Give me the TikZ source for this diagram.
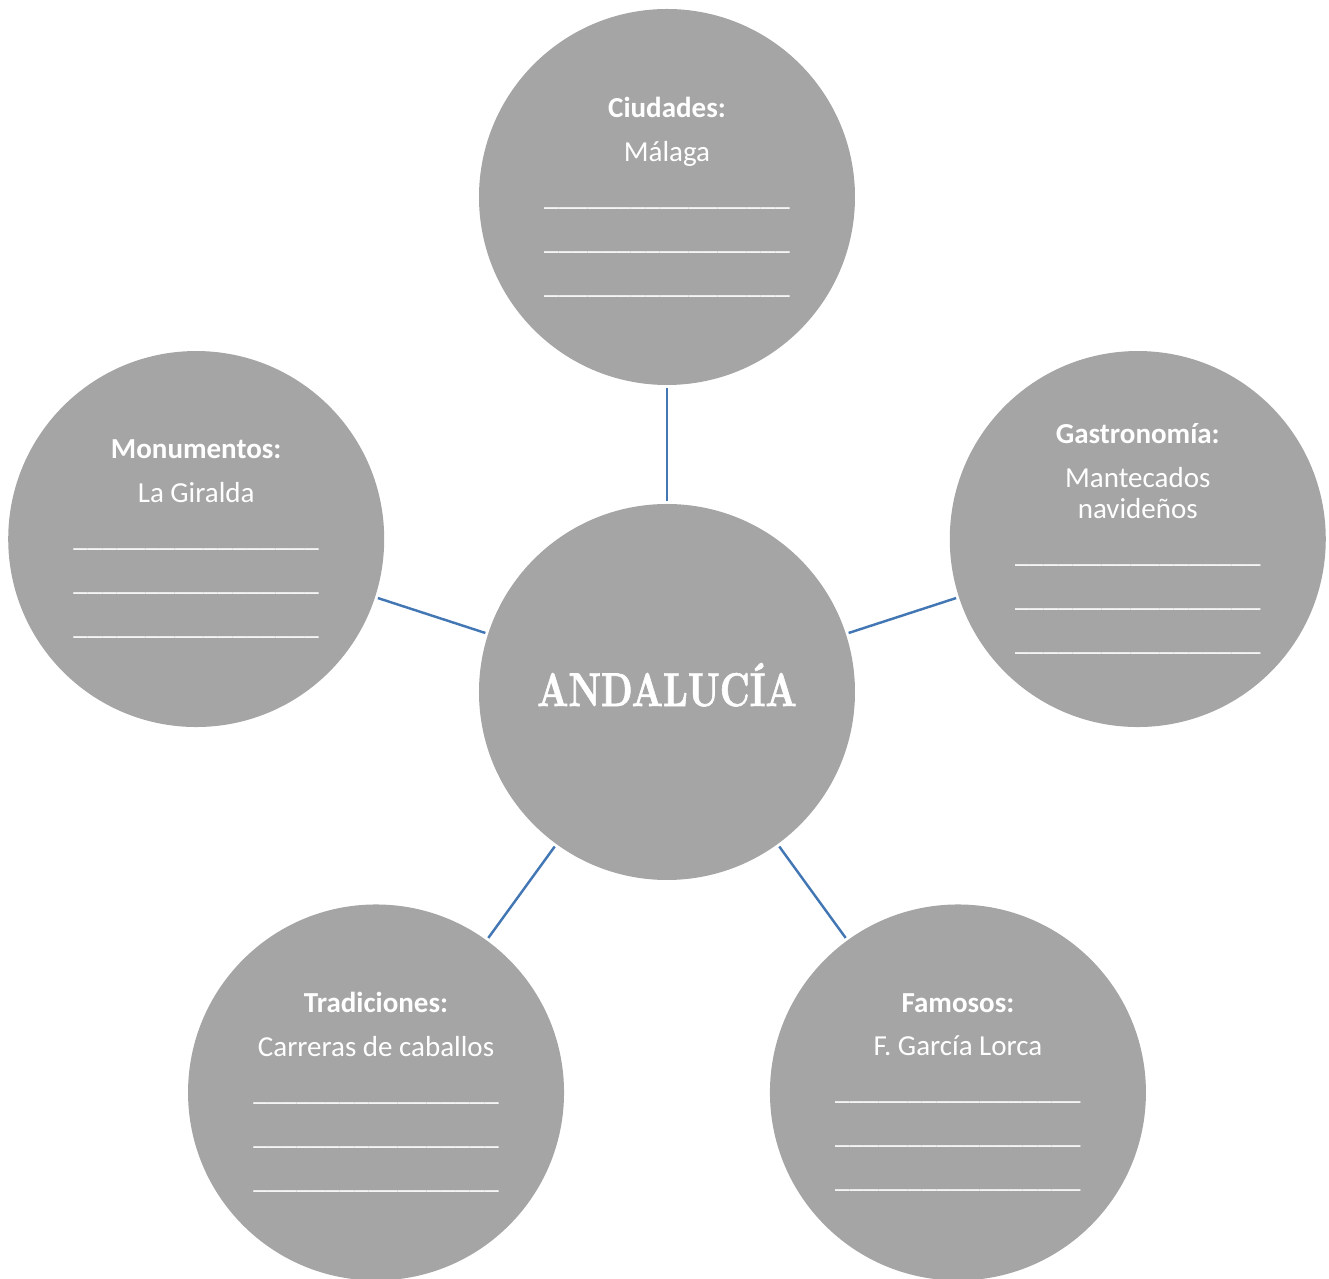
\documentclass[tikz,border=0pt]{standalone}
\usepackage{fontspec}
\setmainfont{Carlito}
\newfontfamily\titlefont{lmroman10-bold}[Extension=.otf, FakeStretch=0.76, FakeBold=1.2]
\usepackage{tikz}
\usetikzlibrary{
    shapes.geometric,
    positioning,
    calc
}
\definecolor{circlegray}{HTML}{A5A5A5}
\definecolor{linkblue}{HTML}{4277B4}
\newcommand{\raya}{\textunderscore\textunderscore\textunderscore\textunderscore\textunderscore\textunderscore\textunderscore\textunderscore\textunderscore\textunderscore\textunderscore\textunderscore\textunderscore\textunderscore\textunderscore\textunderscore\textunderscore}

\begin{document}
\begin{tikzpicture}[
            hub/.style={circle, fill=circlegray, minimum size=7.52cm, inner sep=0pt, text=white, text depth=0.3cm, font=\titlefont\fontsize{27pt}{30pt}\selectfont},
            topic/.style={circle, fill=circlegray, minimum size=7.52cm, inner sep=0pt, text=white, align=center, font=\fontsize{16.5pt}{25pt}\selectfont},
            link/.style={draw=linkblue, line width=1.4pt, shorten >=1.5pt, shorten <=1.5pt}
        ]
        \useasboundingbox (-13.34,-11.74) rectangle (13.24,13.84);

        \node[hub] (andalucia) at (0,0) {ANDALUCÍA};

        \node[topic] (ciudades) at (90:9.9cm) {\textbf{Ciudades:}\\ Málaga\\ \raya\\ \raya\\ \raya};

        \node[topic] (gastronomia) at (18:9.9cm) {\textbf{Gastronomía:}\\ Mantecados\\[-7pt] navideños\\ \raya\\ \raya\\ \raya};

        \node[topic] (famosos) at (306:9.9cm) {\textbf{Famosos:}\\ F. García Lorca\\ \raya\\ \raya\\ \raya};

        \node[topic] (tradiciones) at (234:9.9cm) {\textbf{Tradiciones:}\\ Carreras de caballos\\ \raya\\ \raya\\ \raya};

        \node[topic] (monumentos) at (162:9.9cm) {\textbf{Monumentos:}\\ La Giralda\\ \raya\\ \raya\\ \raya};

        \draw[link] (andalucia) -- (ciudades);
        \draw[link] (andalucia) -- (gastronomia);
        \draw[link] (andalucia) -- (famosos);
        \draw[link] (andalucia) -- (tradiciones);
        \draw[link] (andalucia) -- (monumentos);

        \end{tikzpicture}
\end{document}
